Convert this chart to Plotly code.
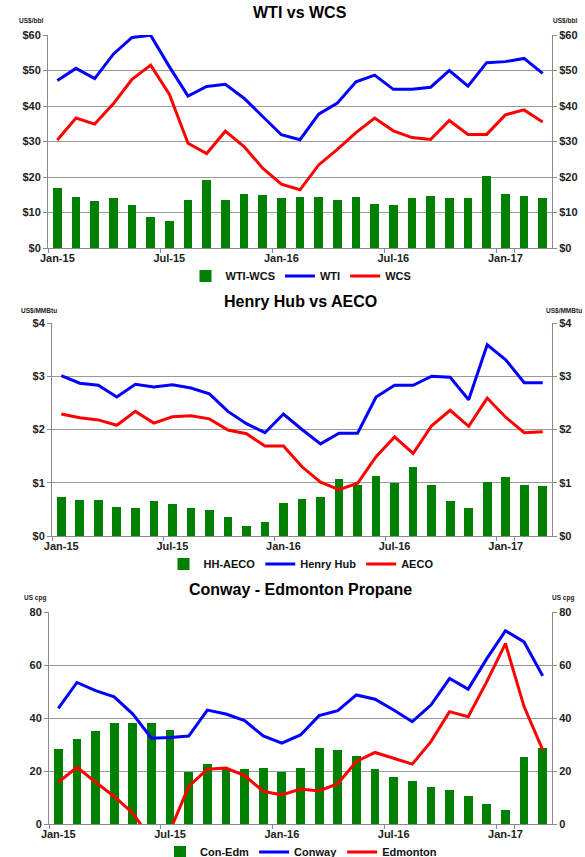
import plotly.graph_objects as go

W, H = 585, 857
FONT = "Arial, Liberation Sans, sans-serif"

# ------------------------------------------------------------
# Data (monthly, Jan-15 .. Mar-17)
# ------------------------------------------------------------
months = ["Jan-15", "Feb-15", "Mar-15", "Apr-15", "May-15", "Jun-15",
          "Jul-15", "Aug-15", "Sep-15", "Oct-15", "Nov-15", "Dec-15",
          "Jan-16", "Feb-16", "Mar-16", "Apr-16", "May-16", "Jun-16",
          "Jul-16", "Aug-16", "Sep-16", "Oct-16", "Nov-16", "Dec-16",
          "Jan-17", "Feb-17", "Mar-17"]
tick_months = ["Jan-15", "Jul-15", "Jan-16", "Jul-16", "Jan-17"]

wti = [47.2, 50.6, 47.7, 54.6, 59.3, 59.9, 51.1, 42.8, 45.5, 46.1, 42.2, 37.0,
       31.9, 30.5, 37.7, 40.8, 46.8, 48.7, 44.7, 44.7, 45.3, 50.0, 45.6, 52.2,
       52.5, 53.4, 49.2]
wcs = [30.4, 36.6, 34.9, 40.6, 47.5, 51.5, 43.3, 29.5, 26.6, 32.9, 28.6, 22.5,
       18.0, 16.4, 23.4, 27.8, 32.5, 36.6, 33.0, 31.1, 30.6, 35.9, 32.0, 32.0,
       37.5, 38.9, 35.5]
wti_wcs = [16.9, 14.3, 13.2, 14.2, 12.1, 8.6, 7.7, 13.6, 19.1, 13.6, 15.3, 14.9,
           14.0, 14.3, 14.5, 13.5, 14.3, 12.5, 12.1, 14.0, 14.7, 14.2, 14.0, 20.4,
           15.3, 14.7, 14.0]

henry_hub = [3.01, 2.87, 2.83, 2.61, 2.85, 2.80, 2.84, 2.78, 2.67, 2.34, 2.11, 1.94,
             2.29, 2.00, 1.73, 1.93, 1.93, 2.61, 2.83, 2.83, 3.00, 2.98, 2.56, 3.59,
             3.31, 2.88, 2.88]
aeco = [2.29, 2.22, 2.18, 2.08, 2.34, 2.12, 2.24, 2.26, 2.20, 1.99, 1.92, 1.69,
        1.69, 1.30, 1.01, 0.87, 0.99, 1.49, 1.86, 1.55, 2.07, 2.36, 2.06, 2.59,
        2.23, 1.94, 1.96]
hh_aeco = [0.73, 0.68, 0.68, 0.54, 0.53, 0.66, 0.61, 0.53, 0.48, 0.36, 0.19, 0.27,
           0.62, 0.69, 0.74, 1.07, 0.96, 1.12, 1.00, 1.30, 0.95, 0.65, 0.52, 1.02,
           1.11, 0.95, 0.93]

conway = [43.6, 53.4, 50.3, 48.0, 41.5, 32.4, 32.6, 33.2, 43.0, 41.5, 39.0, 33.2,
          30.5, 33.6, 40.9, 42.8, 48.7, 47.1, 43.0, 38.6, 44.9, 54.9, 50.9, 62.4,
          72.9, 68.7, 55.9]
edmonton = [15.7, 21.4, 15.8, 10.4, 4.1, -6.0, -2.5, 14.2, 20.7, 21.1, 18.3, 12.3,
            11.0, 13.2, 12.5, 15.2, 23.6, 27.0, 24.8, 22.6, 31.1, 42.4, 40.5, 53.7,
            68.1, 44.3, 28.0]
con_edm = [28.3, 32.1, 35.1, 38.1, 38.1, 38.1, 35.6, 19.8, 22.6, 20.7, 20.8, 21.2,
           19.6, 21.1, 28.6, 28.0, 25.5, 20.6, 17.9, 16.3, 14.0, 12.9, 10.7, 7.6,
           5.4, 25.2, 28.6]

# (title, unit, tick prefix, y max, dtick, bar name, bar data, blue name, blue, red name, red)
panels = [
    ("WTI vs WCS", "US$/bbl", "$", 60, 10, "WTI-WCS", wti_wcs, "WTI", wti, "WCS", wcs),
    ("Henry Hub vs AECO", "US$/MMBtu", "$", 4, 1, "HH-AECO", hh_aeco, "Henry Hub", henry_hub, "AECO", aeco),
    ("Conway - Edmonton Propane", "US cpg", "", 80, 20, "Con-Edm", con_edm, "Conway", conway, "Edmonton", edmonton),
]

# pixel boxes of each plot area: left, right, top, bottom
boxes = [(48, 552, 35, 248), (52, 552, 323, 536), (49, 552, 612, 824)]
title_y = [13, 301, 589]
legend_y = [276, 564, 852]
unit_y = [21, 311, 598]
unit_left_x = [18, 20, 23]      # left edge of the left unit label
unit_right_x = [578, 583, 575]  # right edge of the right unit label


def px_x(v):
    return v / W


def px_y(v):
    return 1 - v / H


GRID = "#9a9a9a"
AXIS = "#8a8a8a"

fig = go.Figure()
annotations = []

for i, (title, unit, pre, ymax, dt, bname, bvals, lname1, l1, lname2, l2) in enumerate(panels):
    n = i + 1
    xa = "x" if n == 1 else f"x{n}"
    yl = f"y{2 * n - 1}" if n > 1 else "y"
    yr = f"y{2 * n}"
    leg = "legend" if n == 1 else f"legend{n}"
    left, right, top, bottom = boxes[i]

    fig.add_trace(go.Bar(x=months, y=bvals, name=bname, marker=dict(color="#008000", line=dict(width=0)),
                         width=0.47, xaxis=xa, yaxis=yl, legend=leg))
    fig.add_trace(go.Scatter(x=months, y=l1, name=lname1, mode="lines", line=dict(color="#0000FF", width=3),
                             xaxis=xa, yaxis=yr, legend=leg))
    fig.add_trace(go.Scatter(x=months, y=l2, name=lname2, mode="lines", line=dict(color="#FF0000", width=3),
                             xaxis=xa, yaxis=yr, legend=leg))

    xkey = "xaxis" if n == 1 else f"xaxis{n}"
    ylkey = "yaxis" if n == 1 else f"yaxis{2 * n - 1}"
    yrkey = f"yaxis{2 * n}"
    ydom = [px_y(bottom), px_y(top)]
    tickfont = dict(family=FONT, size=11, color="#222222", weight="bold")

    fig.update_layout(**{
        xkey: dict(domain=[px_x(left), px_x(right)], anchor=yl, type="category",
                   categoryorder="array", categoryarray=months,
                   range=[-0.5, len(months) - 0.5], automargin=False, tickangle=0,
                   tickmode="array", tickvals=tick_months, tickson="boundaries",
                   ticks="outside", ticklen=4, tickcolor=AXIS, showgrid=False,
                   showline=True, linecolor=AXIS, linewidth=1, tickfont=tickfont),
        ylkey: dict(domain=ydom, anchor=xa, range=[0, ymax], dtick=dt, tickprefix=pre, automargin=False,
                    ticks="outside", ticklen=4, tickcolor=AXIS, showgrid=True, gridcolor=GRID,
                    gridwidth=1, zeroline=False, showline=True, linecolor=AXIS, tickfont=tickfont),
        yrkey: dict(overlaying=yl, side="right", anchor=xa, range=[0, ymax], dtick=dt, tickprefix=pre,
                    automargin=False, ticks="outside", ticklen=4, tickcolor=AXIS, showgrid=False,
                    zeroline=False, showline=True, linecolor=AXIS, tickfont=tickfont),
        leg: dict(orientation="h", x=px_x(301), xanchor="center", y=px_y(legend_y[i]), yanchor="middle",
                  font=dict(family=FONT, size=11, color="#111111", weight="bold"),
                  bgcolor="rgba(0,0,0,0)", itemwidth=30, tracegroupgap=0),
    })

    annotations.append(dict(text=f"<b>{title}</b>", x=px_x(300), y=px_y(title_y[i]), xref="paper", yref="paper",
                            showarrow=False, xanchor="center", yanchor="middle",
                            font=dict(family=FONT, size=16, color="#000000")))
    annotations.append(dict(text=f"<b>{unit}</b>", x=px_x(unit_left_x[i]), y=px_y(unit_y[i]),
                            xref="paper", yref="paper", showarrow=False, xanchor="left", yanchor="middle",
                            borderpad=0, font=dict(family=FONT, size=6.5, color="#222222")))
    annotations.append(dict(text=f"<b>{unit}</b>", x=px_x(unit_right_x[i]), y=px_y(unit_y[i]),
                            xref="paper", yref="paper", showarrow=False, xanchor="right", yanchor="middle",
                            borderpad=0, font=dict(family=FONT, size=6.5, color="#222222")))

fig.update_layout(width=W, height=H, margin=dict(l=0, r=0, t=0, b=0, autoexpand=False),
                  paper_bgcolor="white", plot_bgcolor="white", bargap=0,
                  annotations=annotations, font=dict(family=FONT))

# page body has a default 8px margin; drop it so the figure sits at the window origin
fig.write_html("out.html", config={"displayModeBar": False},
               post_script="document.body.style.margin='0';document.body.style.overflow='hidden';")
